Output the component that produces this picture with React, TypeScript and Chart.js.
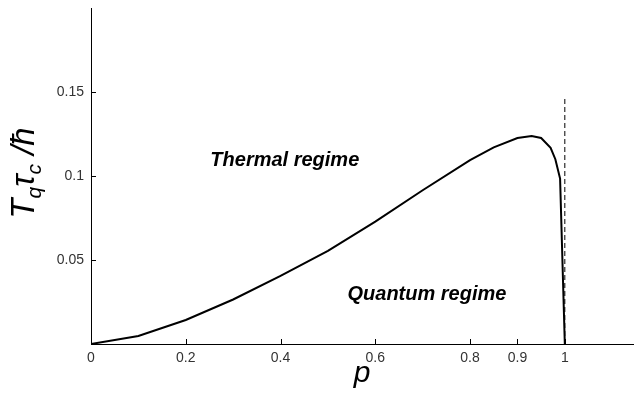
import React, { useEffect, useRef } from "react";
import { Chart, registerables } from "chart.js";

Chart.register(...registerables);

const pValues = [0, 0.1, 0.2, 0.3, 0.4, 0.5, 0.6, 0.7, 0.8, 0.85, 0.9, 0.93, 0.95, 0.97, 0.98, 0.99, 1.0];
const tValues = [0, 0.0048, 0.0143, 0.0265, 0.0405, 0.0555, 0.0728, 0.0915, 0.1095, 0.117, 0.1226, 0.1238, 0.1226, 0.1168, 0.11, 0.0985, 0];
const dashedX = [1, 1];
const dashedY = [0, 0.146];
const xTicks = [0, 0.2, 0.4, 0.6, 0.8, 0.9, 1];
const yTicks = [0.05, 0.1, 0.15];
const annotations = [
  { text: "Thermal regime", x: 0.409, y: 0.106 },
  { text: "Quantum regime", x: 0.709, y: 0.0262 },
];

const FONT = "'Liberation Sans', Arial, sans-serif";

const decorPlugin = {
  id: "decor",
  afterDraw(chart: any) {
    const ctx = chart.ctx;
    const xs = chart.scales.x;
    const ys = chart.scales.y;
    const area = chart.chartArea;
    ctx.save();
    // inward ticks
    ctx.strokeStyle = "#000";
    ctx.lineWidth = 1;
    ctx.beginPath();
    for (const v of xTicks) {
      const px = Math.round(xs.getPixelForValue(v)) + 0.5;
      ctx.moveTo(px, area.bottom);
      ctx.lineTo(px, area.bottom - 5);
    }
    for (const v of yTicks) {
      const py = Math.round(ys.getPixelForValue(v)) + 0.5;
      ctx.moveTo(area.left, py);
      ctx.lineTo(area.left + 5, py);
    }
    ctx.stroke();
    // annotations
    ctx.fillStyle = "#000";
    ctx.font = `italic bold 20px ${FONT}`;
    ctx.textAlign = "center";
    ctx.textBaseline = "alphabetic";
    for (const a of annotations) {
      ctx.fillText(a.text, xs.getPixelForValue(a.x), ys.getPixelForValue(a.y));
    }
    // x title
    ctx.font = `italic 30px ${FONT}`;
    ctx.fillText("p", 362, 382);
    // y title
    const parts: [string, number, number][] = [
      ["T", 33, 0],
      ["q", 21, 7],
      ["\u03C4", 33, 0],
      ["c", 21, 7],
      [" /\u0127", 33, 0],
    ];
    let total = 0;
    for (const [t, s] of parts) {
      ctx.font = `italic ${s}px ${FONT}`;
      total += ctx.measureText(t).width;
    }
    ctx.translate(34, 173);
    ctx.rotate(-Math.PI / 2);
    ctx.textAlign = "left";
    let x = -total / 2;
    for (const [t, s, dy] of parts) {
      ctx.font = `italic ${s}px ${FONT}`;
      ctx.fillText(t, x, dy);
      x += ctx.measureText(t).width;
    }
    ctx.restore();
  },
};

export default function App() {
  const ref = useRef<HTMLCanvasElement>(null);
  useEffect(() => {
    if (!ref.current) return;
    const chart = new Chart(ref.current, {
      type: "scatter",
      data: {
        datasets: [
          {
            data: pValues.map((p, i) => ({ x: p, y: tValues[i] })),
            showLine: true,
            borderColor: "#000",
            borderWidth: 2,
            pointRadius: 0,
            tension: 0,
          },
          {
            data: dashedX.map((p, i) => ({ x: p, y: dashedY[i] })),
            showLine: true,
            borderColor: "#000",
            borderWidth: 1,
            borderDash: [5, 3],
            pointRadius: 0,
          },
        ],
      },
      options: {
        animation: false,
        responsive: false,
        maintainAspectRatio: false,
        layout: { padding: { top: 8, right: 0, left: 0, bottom: 0 } },
        plugins: { legend: { display: false }, tooltip: { enabled: false } },
        scales: {
          x: {
            type: "linear",
            min: 0,
            max: 1.146,
            afterBuildTicks: (s: any) => {
              s.ticks = xTicks.map((v) => ({ value: v }));
            },
            afterFit: (s: any) => {
              s.height = 65;
              s.paddingLeft = 0;
              s.paddingRight = 0;
            },
            grid: { display: false, drawTicks: false },
            border: { display: true, color: "#000", width: 1 },
            ticks: {
              color: "#333",
              font: { family: FONT, size: 14 },
              padding: 6,
              maxRotation: 0,
              autoSkip: false,
              callback: (v: any) => String(v),
            },
          },
          y: {
            type: "linear",
            min: 0,
            max: 0.2,
            afterBuildTicks: (s: any) => {
              s.ticks = yTicks.map((v) => ({ value: v }));
            },
            afterFit: (s: any) => {
              s.width = 91;
              s.paddingTop = 0;
              s.paddingBottom = 0;
            },
            grid: { display: false, drawTicks: false },
            border: { display: true, color: "#000", width: 1 },
            ticks: {
              color: "#333",
              font: { family: FONT, size: 14 },
              padding: 7,
              autoSkip: false,
              callback: (v: any) => String(v),
            },
          },
        },
      },
      plugins: [decorPlugin],
    });
    return () => chart.destroy();
  }, []);
  return (
    <div style={{ position: "fixed", left: 0, top: 0, width: 634, height: 409, background: "#fff" }}>
      <canvas ref={ref} width={634} height={409} style={{ width: 634, height: 409 }} />
    </div>
  );
}
